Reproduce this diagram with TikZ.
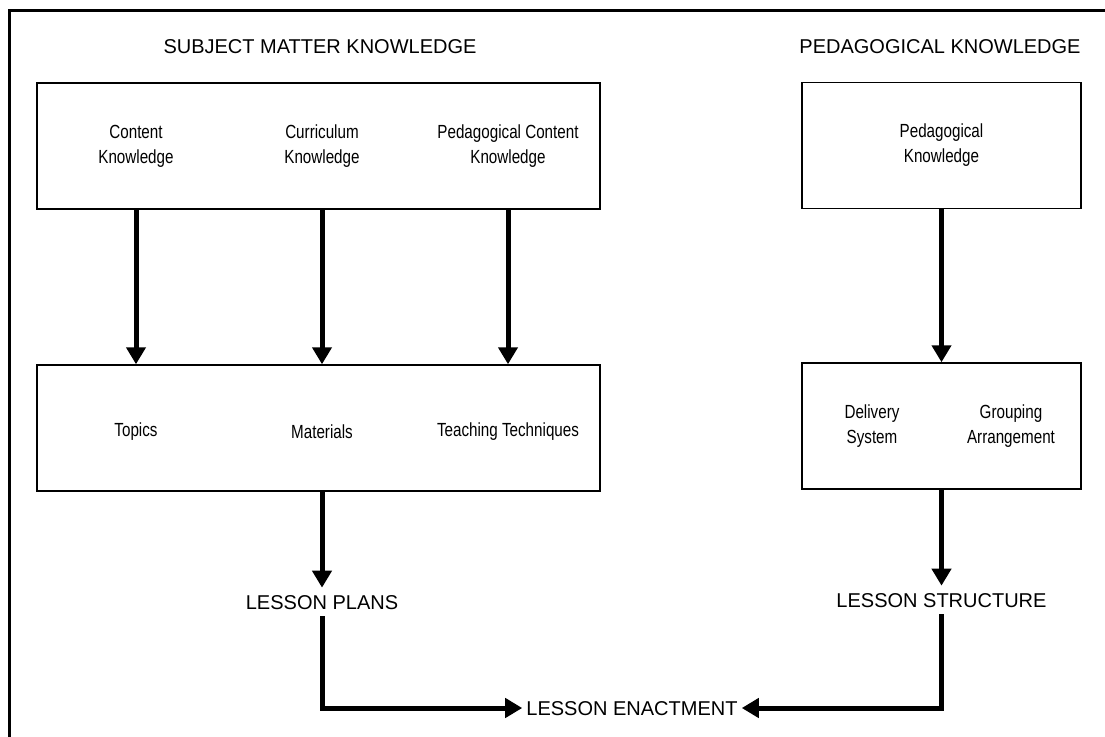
\documentclass[tikz,border=0pt]{standalone}
\usepackage{fontspec}
\setmainfont{Liberation Sans}
\newfontfamily\narrowfont[FakeStretch=0.8]{Liberation Sans}
\usetikzlibrary{arrows.meta}

\begin{document}
\begin{tikzpicture}[x=1pt, y=-1pt,
    frame/.style={line width=3pt},
    kbox/.style={draw, line width=1.5pt, minimum height=126pt, inner sep=0pt},
    item/.style={align=center, font=\narrowfont\fontsize{19}{25}\selectfont},
    heading/.style={font=\fontsize{20}{24}\selectfont, inner xsep=4pt, inner ysep=7pt,
        text height=14.3pt, text depth=0pt},
    bigarrow/.style={line width=5pt, -{Triangle[width=19pt,length=17pt]}},
    bigline/.style={line width=5pt}]
\useasboundingbox (0,0) rectangle (1105,736);
\draw[frame] (1106,10) -- (9,10) -- (9,737);

% headings
\node[heading] (smk) at (320,46) {SUBJECT MATTER KNOWLEDGE};
\node[heading] (pk) at (940,46) {PEDAGOGICAL KNOWLEDGE};

% subject matter side
\node[kbox, minimum width=563pt] (know) at (318.5,146) {};
\node[item] (content) at (136,146) {Content\\Knowledge};
\node[item] (curric) at (322,146) {Curriculum\\Knowledge};
\node[item] (pck) at (508,146) {Pedagogical Content\\Knowledge};

\node[kbox, minimum width=563pt] (plan) at (318.5,428) {};
\node[item] (topics) at (136,432) {Topics};
\node[item] (materials) at (322,432) {Materials};
\node[item] (techniques) at (508,432) {Teaching Techniques};

\draw[bigarrow] (content |- know.south) -- (content |- plan.north);
\draw[bigarrow] (curric |- know.south) -- (curric |- plan.north);
\draw[bigarrow] (pck |- know.south) -- (pck |- plan.north);

% pedagogical side
\node[kbox, minimum width=279pt] (ped) at (941.5,145.5) {};
\node[item] (pedk) at (941.5,145.5) {Pedagogical\\Knowledge};

\node[kbox, minimum width=279pt] (struct) at (941.5,426) {};
\node[item] (delivery) at (872,426) {Delivery\\System};
\node[item] (grouping) at (1011,426) {Grouping\\Arrangement};

\draw[bigarrow] (ped.south) -- (struct.north);

% lesson outcomes
\node[heading] (plans) at (322,602) {LESSON PLANS};
\node[heading] (structure) at (941.5,600) {LESSON STRUCTURE};
\node[heading] (enact) at (632,708) {LESSON ENACTMENT};

\draw[bigarrow] (plan.south -| plans) -- (plans.north);
\draw[bigarrow] (struct.south) -- (structure.north);
\draw[bigarrow] (plans.south) |- (enact.west);
\draw[bigarrow] (structure.south) |- (enact.east);
\end{tikzpicture}
\end{document}
